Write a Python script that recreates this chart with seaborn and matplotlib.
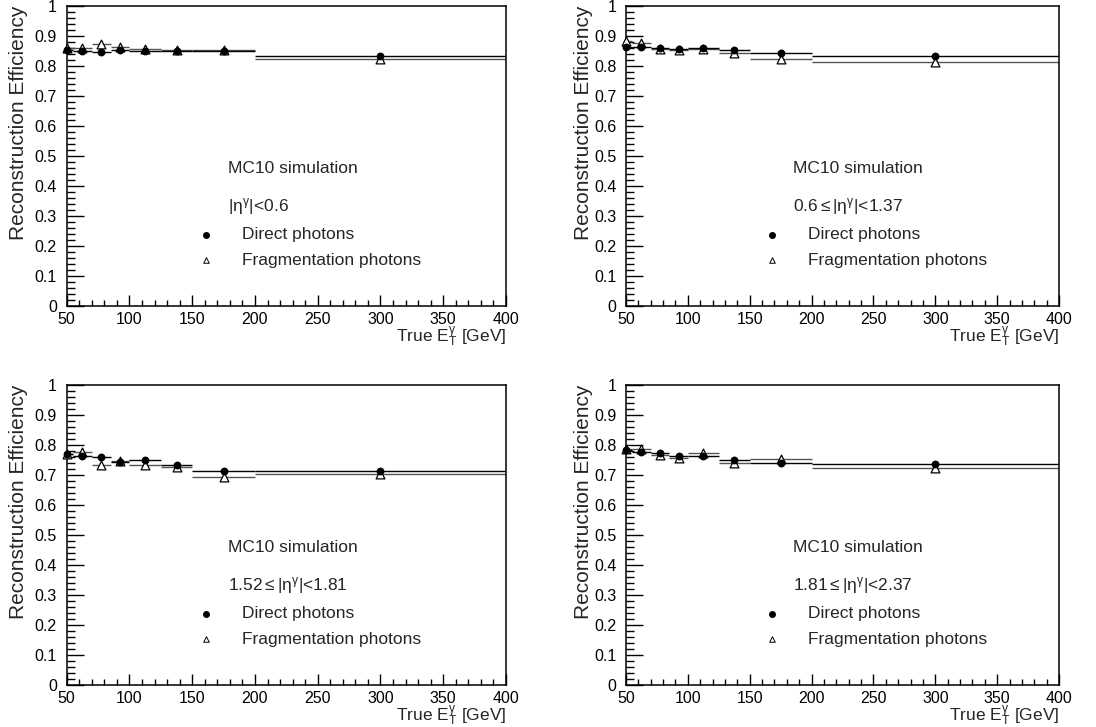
import numpy as np
import pandas as pd
import matplotlib
matplotlib.use("Agg")
import matplotlib.pyplot as plt
from matplotlib.ticker import MultipleLocator
import seaborn as sns

# ---------------- data ----------------
bin_edges = [45, 55, 70, 85, 100, 125, 150, 200, 400]
bin_centers = [50, 62.5, 77.5, 92.5, 112.5, 137.5, 175, 300]

eta_labels = [
    r"|$\mathrm{\eta^{\gamma}}$|<0.6",
    r"0.6$\leq$|$\mathrm{\eta^{\gamma}}$|<1.37",
    r"1.52$\leq$|$\mathrm{\eta^{\gamma}}$|<1.81",
    r"1.81$\leq$|$\mathrm{\eta^{\gamma}}$|<2.37",
]

direct_eff_0 = [0.853, 0.849, 0.847, 0.855, 0.850, 0.851, 0.849, 0.835]
frag_eff_0 = [0.861, 0.859, 0.872, 0.863, 0.856, 0.855, 0.855, 0.823]

direct_eff_1 = [0.862, 0.862, 0.860, 0.856, 0.860, 0.853, 0.843, 0.835]
frag_eff_1 = [0.883, 0.876, 0.858, 0.853, 0.858, 0.842, 0.823, 0.813]

direct_eff_2 = [0.770, 0.763, 0.761, 0.744, 0.751, 0.733, 0.713, 0.712]
frag_eff_2 = [0.770, 0.776, 0.734, 0.748, 0.733, 0.727, 0.695, 0.705]

direct_eff_3 = [0.783, 0.778, 0.772, 0.762, 0.764, 0.750, 0.741, 0.738]
frag_eff_3 = [0.786, 0.787, 0.768, 0.757, 0.774, 0.739, 0.752, 0.722]

direct_all = [direct_eff_0, direct_eff_1, direct_eff_2, direct_eff_3]
frag_all = [frag_eff_0, frag_eff_1, frag_eff_2, frag_eff_3]

x_ticks = [50, 100, 150, 200, 250, 300, 350, 400]
y_ticks = [0, 0.1, 0.2, 0.3, 0.4, 0.5, 0.6, 0.7, 0.8, 0.9, 1]
y_tick_labels = ["0", "0.1", "0.2", "0.3", "0.4", "0.5", "0.6", "0.7", "0.8", "0.9", "1"]

# ---------------- style ----------------
sns.set_style("ticks")
plt.rcParams["font.family"] = ["Liberation Sans", "DejaVu Sans"]
plt.rcParams["mathtext.fontset"] = "custom"
plt.rcParams["mathtext.rm"] = "Liberation Sans"
plt.rcParams["mathtext.it"] = "Liberation Sans"
plt.rcParams["mathtext.bf"] = "Liberation Sans"

W, H = 1096, 727
fig = plt.figure(figsize=(W / 100, H / 100), dpi=100)
fig.patch.set_facecolor("white")

col_left = [66.7 / W, 626 / W]
col_width = [(506 - 66.7) / W, (1059 - 626) / W]
row_bottom = [1 - 306 / H, 1 - 685 / H]
row_height = 300 / H

# per-column text positions (axes fraction)
text_x = [0.368, 0.386]
mark_x = [0.316, 0.337]
leg_text_x = [0.400, 0.420]
ylabel_x = [-0.088, -0.076]

lo = np.array(bin_edges[:-1])
hi = np.array(bin_edges[1:])

TXT = 12.5

for i in range(4):
    r, c = divmod(i, 2)
    ax = fig.add_axes([col_left[c], row_bottom[r], col_width[c], row_height])
    ax.set_facecolor("white")
    df = pd.DataFrame({"x": bin_centers, "direct": direct_all[i], "frag": frag_all[i]})

    # bin-width bars
    ax.hlines(df["frag"], lo, hi, color="#555555", lw=1.0, zorder=2)
    ax.hlines(df["direct"], lo, hi, color="black", lw=1.0, zorder=2)

    sns.scatterplot(data=df, x="x", y="frag", marker="^", s=40, facecolor="white",
                    edgecolor="black", linewidth=0.9, ax=ax, zorder=3, clip_on=False,
                    legend=False)
    sns.scatterplot(data=df, x="x", y="direct", marker="o", s=32, color="black",
                    edgecolor="black", linewidth=0, ax=ax, zorder=4, clip_on=False,
                    legend=False)

    ax.set_xlim(50, 400)
    ax.set_ylim(0, 1)
    ax.set_xticks(x_ticks)
    ax.set_xticklabels([str(t) for t in x_ticks])
    ax.set_yticks(y_ticks)
    ax.set_yticklabels(y_tick_labels)
    ax.xaxis.set_minor_locator(MultipleLocator(10))
    ax.yaxis.set_minor_locator(MultipleLocator(0.02))
    ax.tick_params(axis="both", which="both", direction="in", top=False, right=False,
                   labelsize=11.5, width=1.0, colors="black")
    ax.tick_params(axis="y", which="major", length=12, pad=7)
    ax.tick_params(axis="y", which="minor", length=6)
    ax.tick_params(axis="x", which="major", length=8, pad=4)
    ax.tick_params(axis="x", which="minor", length=4)
    for sp in ax.spines.values():
        sp.set_visible(True)
        sp.set_linewidth(1.1)
        sp.set_color("black")

    ax.set_xlabel(r"True E$_{\mathrm{T}}^{\mathrm{\gamma}}$ [GeV]", fontsize=TXT, ha="right")
    ax.xaxis.set_label_coords(1.0, -0.062)
    ax.xaxis.label.set_va("top")
    ax.set_ylabel("Reconstruction Efficiency", fontsize=15, ha="right")
    ax.yaxis.set_label_coords(ylabel_x[c], 1.0)

    ax.text(text_x[c], 0.457, "MC10 simulation", transform=ax.transAxes,
            fontsize=TXT, va="center", ha="left")
    ax.text(text_x[c], 0.331, eta_labels[i], transform=ax.transAxes,
            fontsize=TXT, va="center", ha="left")
    ax.scatter([mark_x[c]], [0.237], marker="o", s=16, color="black",
               transform=ax.transAxes, clip_on=False)
    ax.text(leg_text_x[c], 0.237, "Direct photons", transform=ax.transAxes,
            fontsize=TXT, va="center", ha="left")
    ax.scatter([mark_x[c]], [0.153], marker="^", s=16, facecolor="white",
               edgecolor="black", linewidth=0.7, transform=ax.transAxes, clip_on=False)
    ax.text(leg_text_x[c], 0.153, "Fragmentation photons", transform=ax.transAxes,
            fontsize=TXT, va="center", ha="left")

fig.savefig("out.png", dpi=100, facecolor="white")
